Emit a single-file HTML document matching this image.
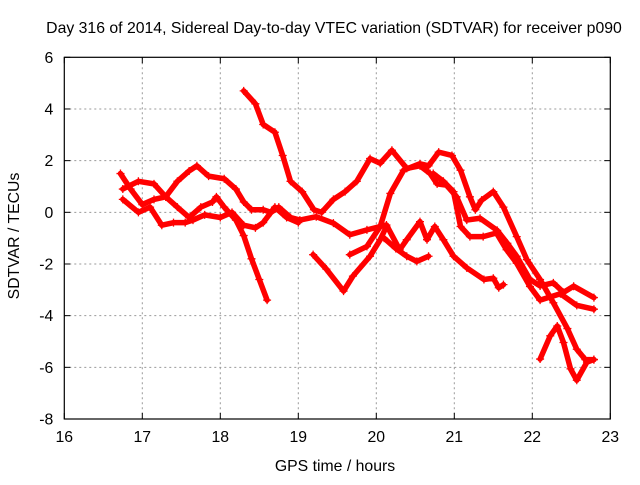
<!DOCTYPE html>
<html><head><meta charset="utf-8"><style>
body{margin:0;background:#fff}
svg text{font-family:"Liberation Sans",sans-serif;font-size:15.8px;fill:#000}
</style></head><body>
<svg width="640" height="480" id="c">
<rect width="640" height="480" fill="#fff"/>
<text x="334" y="33" text-anchor="middle">Day 316 of 2014, Sidereal Day-to-day VTEC variation (SDTVAR) for receiver p090</text>
<text x="335" y="471" text-anchor="middle">GPS time / hours</text>
<text transform="translate(19,236) rotate(-90)" text-anchor="middle">SDTVAR / TECUs</text>
<g id="grid"></g><g id="marks"></g>
<rect x="64.3" y="57.3" width="546" height="361.7" fill="none" stroke="#000" stroke-width="1.2"/>
</svg>
<script>
const xTicks=[16,17,18,19,20,21,22,23];
const yTicks=[-8,-6,-4,-2,0,2,4,6];
const track1=[[18.3,4.7],[18.45,4.2],[18.55,3.4],[18.7,3.1],[18.8,2.2],[18.9,1.2],[19.05,0.8],[19.2,0.1],[19.3,0.0],[19.45,0.5],[19.6,0.8],[19.75,1.2],[19.92,2.08],[20.05,1.9],[20.2,2.4],[20.39,1.7],[20.56,1.8],[20.69,1.5],[20.78,1.1],[20.9,1.05],[21.03,0.6],[21.16,-0.3],[21.33,-0.23],[21.55,-0.7],[21.68,-1.2],[21.8,-1.7],[21.97,-2.6],[22.1,-2.85],[22.27,-2.73],[22.4,-3.1],[22.53,-2.86],[22.79,-3.3]];
const track2=[[16.72,1.5],[16.85,0.9],[17.0,0.3],[17.15,0.5],[17.3,0.6],[17.45,1.2],[17.6,1.6],[17.7,1.8],[17.85,1.4],[18.05,1.3],[18.2,0.9],[18.3,0.4],[18.4,0.1],[18.55,0.1],[18.65,0.0],[18.75,0.2],[18.9,-0.2],[19.02,-0.3],[19.23,-0.17],[19.45,-0.42],[19.66,-0.87],[19.88,-0.68],[20.13,-0.49],[20.3,-1.45],[20.39,-1.06],[20.56,-0.36],[20.65,-1.06],[20.75,-0.55],[20.86,-1.06],[20.99,-1.7],[21.16,-2.15],[21.38,-2.6],[21.5,-2.55],[21.57,-2.92],[21.63,-2.8]];
const track3=[[16.75,0.9],[16.95,1.2],[17.15,1.1],[17.3,0.6],[17.45,0.2],[17.6,-0.2],[17.75,0.2],[17.9,0.4],[17.95,0.6],[18.05,0.2],[18.2,-0.3],[18.3,-0.9],[18.4,-1.8],[18.5,-2.6],[18.6,-3.4]];
const track4=[[16.75,0.5],[16.95,0.0],[17.1,0.2],[17.25,-0.5],[17.4,-0.4],[17.55,-0.4],[17.65,-0.3],[17.8,-0.1],[18.0,-0.2],[18.15,0.0],[18.3,-0.5],[18.45,-0.6],[18.55,-0.4],[18.7,0.2],[18.85,-0.2],[19.0,-0.4]];
const track5=[[19.19,-1.64],[19.36,-2.2],[19.58,-3.05],[19.7,-2.47],[19.92,-1.7],[20.05,-1.06],[20.13,-0.55]];
const track6=[[19.66,-1.64],[19.88,-1.32],[20.05,-0.55],[20.18,0.73],[20.35,1.63],[20.56,1.88],[20.67,1.8],[20.8,2.33],[20.97,2.2],[21.08,1.63],[21.2,0.6],[21.27,0.1],[21.35,0.47],[21.5,0.8],[21.63,0.2],[21.8,-0.94],[21.93,-1.83],[22.1,-2.6],[22.27,-3.5],[22.45,-4.5],[22.57,-5.3],[22.68,-5.7],[22.79,-5.7]];
const track7=[[20.1,-1.0],[20.25,-1.4],[20.39,-1.7],[20.52,-1.9],[20.67,-1.7]];
const track8=[[20.73,1.5],[20.86,1.2],[20.99,0.8],[21.08,-0.55],[21.2,-0.94],[21.37,-0.94],[21.54,-0.8],[21.67,-1.45],[21.8,-1.97],[21.97,-2.87],[22.1,-3.4],[22.36,-3.15],[22.57,-3.6],[22.79,-3.75]];
const track9=[[22.1,-5.68],[22.23,-4.78],[22.32,-4.4],[22.4,-5.04],[22.49,-6.06],[22.57,-6.5],[22.7,-5.8],[22.79,-5.7]];
const tracks=[track1,track2,track3,track4,track5,track6,track7,track8,track9];
const X0=64.3,X1=610.3,Y0=419,Y1=57.3;
const sx=v=>X0+(v-16)/(23-16)*(X1-X0);
const sy=v=>Y0-(v+8)/14*(Y0-Y1);
const NS="http://www.w3.org/2000/svg";
const grid=document.getElementById('grid'),marks=document.getElementById('marks');
function mk(t,a,p){const e=document.createElementNS(NS,t);for(const k in a)e.setAttribute(k,a[k]);p.appendChild(e);return e;}
xTicks.forEach(v=>{const x=sx(v);
 if(v>16&&v<23){const l=mk('line',{x1:x,x2:x,y1:Y1,y2:Y0,stroke:'#999','stroke-dasharray':'2,3'},grid);
 
 }
 mk('line',{x1:x,x2:x,y1:Y0,y2:Y0-6,stroke:'#000'},grid);
 mk('line',{x1:x,x2:x,y1:Y1,y2:Y1+6,stroke:'#000'},grid);
 const t=mk('text',{x:x,y:Y0+23,'text-anchor':'middle'},grid);t.textContent=v;
 
 });
yTicks.forEach(v=>{const y=sy(v);
 if(v>-8&&v<6){const l=mk('line',{x1:X0,x2:X1,y1:y,y2:y,stroke:'#999','stroke-dasharray':'2,3'},grid);
 
 }
 mk('line',{x1:X0,x2:X0+6,y1:y,y2:y,stroke:'#000'},grid);
 mk('line',{x1:X1,x2:X1-6,y1:y,y2:y,stroke:'#000'},grid);
 const t=mk('text',{x:X0-11,y:y+5.5,'text-anchor':'end'},grid);t.textContent=v;
 
 });
tracks.forEach((tr,i)=>{
 const p=mk('polyline',{points:tr.map(d=>sx(d[0])+','+sy(d[1])).join(' '),fill:'none',stroke:'#f00','stroke-width':5.5,'stroke-linejoin':'round','stroke-linecap':'round'},marks);
 
 
 tr.forEach(d=>{const x=sx(d[0]),y=sy(d[1]);
  const m=mk('path',{d:`M${x-4},${y}h8M${x},${y-4}v8`,stroke:'#f00','stroke-width':1.3},marks);
  
  });
});
</script>
</body></html>
